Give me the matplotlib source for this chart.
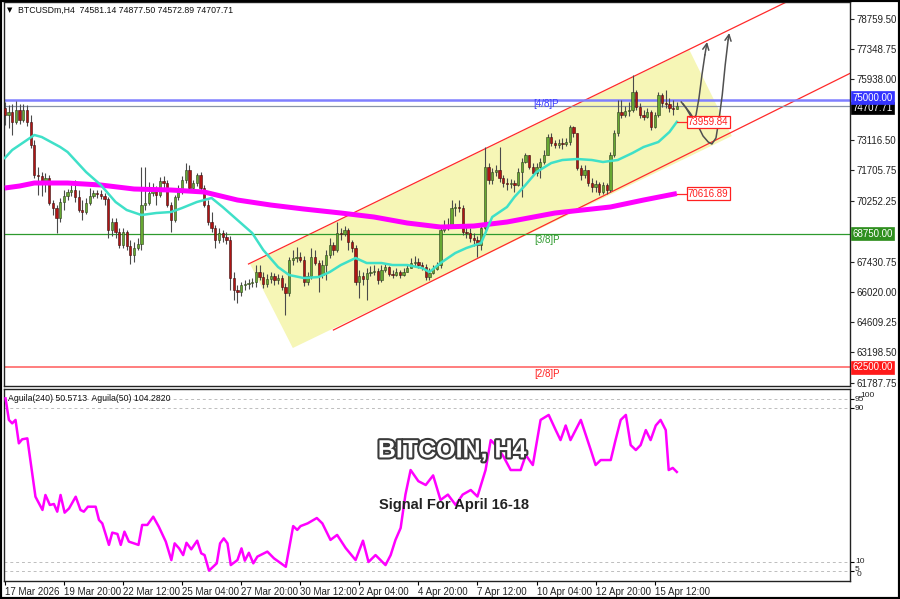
import numpy as np
import matplotlib
matplotlib.use("Agg")
import matplotlib.pyplot as plt
from matplotlib.patches import Polygon, Rectangle
from matplotlib import patheffects as pe
import matplotlib.transforms as mtransforms

plt.rcParams['font.family'] = ['Liberation Sans', 'DejaVu Sans']

# ---- H4 candles, BTCUSDm ----
first_open = 74607
closes = [74280, 74420, 73953, 74513, 74047, 74513, 73953, 72880, 71480, 71433,
          71107, 71340, 70173, 69940, 69473, 70220, 70500, 70687, 70780, 70453,
          69847, 69753, 70173, 70500, 70640, 70593, 70500, 70360, 68913, 69287,
          68820, 68213, 68820, 68167, 67747, 68073, 68260, 70080, 70173, 70640,
          70780, 70547, 71200, 71107, 70080, 69380, 70453, 70687, 71247, 71713,
          70873, 71107, 71480, 70873, 70080, 69287, 69007, 68447, 68773, 68587,
          68447, 66673, 66113, 66020, 66347, 66393, 66440, 66487, 66953, 66720,
          66393, 66627, 66767, 66580, 66673, 66253, 65973, 67513, 67607, 67653,
          67513, 66487, 66767, 67653, 67373, 66813, 67280, 67747, 68213, 67980,
          68773, 68727, 68913, 68353, 68073, 66487, 66767, 66627, 66907, 66953,
          67000, 66580, 67047, 67187, 66860, 66813, 66953, 66813, 66953, 67140,
          67373, 67420, 67280, 67187, 66720, 66907, 67093, 67280, 68913, 69100,
          69147, 69940, 69987, 69940, 68820, 68773, 68540, 68447, 68213, 69007,
          71853, 71247, 71620, 71713, 71340, 71107, 71060, 71107, 71013, 71620,
          72087, 72413, 71853, 71573, 71853, 72087, 72413, 73253, 72973, 72880,
          72973, 72927, 73020, 73720, 73440, 71807, 71480, 71713, 71107, 70920,
          71060, 70687, 71013, 70780, 72413, 73440, 74420, 74280, 74467, 74513,
          75353, 74653, 74280, 74187, 74420, 73720, 74280, 75213, 74840, 74793,
          74607, 74581.14, 74707.71]
highs = [74887, 74747, 74793, 74933, 74793, 74793, 74747, 74280, 73113, 71853,
         71620, 71573, 71480, 70313, 70080, 70407, 70780, 70827, 71013, 71247,
         70780, 70313, 70407, 70873, 70780, 70780, 70780, 70640, 70453, 69473,
         69473, 69007, 69007, 68913, 68447, 68353, 68540, 71853, 71853, 71153,
         71107, 70967, 71387, 71433, 71247, 70220, 70547, 71013, 71433, 72040,
         71947, 71247, 71573, 71620, 71013, 70313, 69753, 69147, 69007, 68913,
         68820, 68633, 66953, 66347, 66487, 66580, 66627, 66673, 67280, 67280,
         66953, 66860, 66953, 66907, 66860, 66813, 66440, 67653, 67980, 68120,
         67887, 67700, 66953, 68073, 67980, 67513, 67513, 67980, 68540, 68353,
         69287, 69007, 69100, 69007, 68447, 68213, 67047, 66953, 67140, 67233,
         67280, 67140, 67280, 67373, 67233, 67047, 67140, 67047, 67140, 67280,
         67607, 67700, 67607, 67420, 67327, 67140, 67280, 67420, 69100, 69380,
         69473, 70313, 70173, 70313, 70080, 69147, 69007, 68773, 68633, 69147,
         72787, 72040, 71807, 71947, 72787, 71480, 71340, 71293, 71247, 71807,
         72273, 72507, 72413, 72040, 72040, 72273, 72647, 73393, 73440, 73113,
         73160, 73207, 73207, 73813, 73767, 73207, 71947, 71947, 71713, 71340,
         71247, 71153, 71153, 71107, 72553, 73580, 74980, 74980, 74700, 74887,
         76147, 75447, 74840, 74513, 74607, 74513, 74420, 75353, 75307, 75447,
         75073, 74980, 74877.50]
lows = [73813, 73673, 73347, 73860, 73860, 73953, 73767, 72740, 71340, 70547,
        70500, 70687, 70080, 69613, 68773, 69287, 69847, 70313, 70500, 70220,
        69753, 69380, 69660, 70080, 70407, 70407, 70360, 70080, 68540, 68633,
        68540, 68073, 68073, 67980, 67327, 67420, 67980, 67980, 69847, 70080,
        70500, 70080, 70453, 70873, 69987, 68820, 69287, 70313, 70593, 71107,
        70687, 70687, 70967, 70780, 69987, 69147, 68820, 68073, 68307, 68353,
        68260, 66113, 65647, 65507, 65833, 66113, 66160, 66253, 66253, 66580,
        66207, 66253, 66440, 66347, 66393, 66113, 64947, 65833, 67280, 67420,
        67420, 66300, 66347, 66627, 67280, 66020, 66673, 66580, 67607, 67747,
        67887, 68447, 68633, 67980, 67887, 66347, 65740, 66347, 65647, 66767,
        66813, 66393, 66487, 66953, 66767, 66673, 66767, 66673, 66767, 66953,
        67140, 67233, 67140, 67047, 66580, 66580, 66860, 67047, 67140, 68820,
        68913, 69007, 69567, 69753, 68680, 68540, 68353, 68167, 67653, 67980,
        68913, 71060, 71060, 71433, 71153, 70920, 70780, 70873, 70687, 70967,
        70453, 72040, 71760, 71433, 71433, 71340, 71993, 72413, 72833, 72740,
        72740, 72693, 72833, 72880, 73253, 71713, 71247, 71340, 70967, 70687,
        70687, 70547, 70593, 70593, 70687, 72320, 73300, 74140, 74187, 74233,
        74420, 74513, 74140, 74047, 74140, 73580, 73673, 74187, 74653, 74607,
        74420, 74280, 74572.89]

# moving averages (bar index, price)
ma_fast_bar = [0, 2, 4, 8, 10, 15, 17, 22, 26, 30, 33, 37, 41, 45, 48, 52, 56, 59,
               63, 67, 70, 74, 77, 81, 85, 88, 91, 95, 98, 102, 105, 109, 113, 115,
               118, 122, 125, 129, 132, 136, 138, 141, 144, 148, 151, 155, 159, 162,
               166, 170, 173, 177, 180, 182]
ma_fast_val = [72273, 72647, 72880, 73347, 73253, 72787, 72553, 71620, 71013, 70220,
               69847, 69613, 69707, 69753, 69940, 70220, 70407, 69987, 69380, 68773,
               67980, 67187, 66813, 66673, 66720, 66953, 67280, 67607, 67373, 67373,
               67280, 67280, 67140, 66953, 67373, 67840, 68073, 68307, 69520, 69987,
               70450, 71013, 71620, 72040, 72180, 72227, 72180, 72087, 72180, 72507,
               72787, 73020, 73487, 73959.84]
ma_slow_bar = [0, 4, 8, 17, 26, 35, 45, 54, 63, 72, 81, 91, 100, 109, 118, 127, 136,
               149, 164, 173, 182]
ma_slow_val = [70873, 70967, 71107, 71107, 71013, 70827, 70780, 70687, 70313, 70080,
               69893, 69707, 69520, 69240, 69053, 69100, 69287, 69707, 69987, 70313,
               70616.89]

# Aguila(240) oscillator (bar index, value)
agu_bar = [0.2, 1.1, 2, 2.9, 3.8, 4.7, 6.1, 8.3, 10.2, 11, 12.2, 13.3, 14.2, 15.1,
           16.2, 17.4, 19.2, 20.5, 21.4, 22.5, 24.6, 25.5, 26.4, 28.2, 29.1, 30.5,
           31.4, 32.4, 33.6, 35, 36.2, 37.2, 38.6, 40.2, 41.7, 43.6, 45.1, 46, 47.2,
           48.3, 49.2, 50.5, 52.1, 53.2, 54.1, 55.3, 57.4, 58.3, 59.3, 60.3, 61.2,
           63, 64.1, 65, 66.1, 67.3, 68.4, 71.1, 72.9, 76.1, 78.1, 79.2, 80.1,
           82, 84.5, 86, 88.2, 90, 92.3, 95, 97, 98.5, 100.4, 103.1, 104.5, 105.8,
           107.2, 108.5, 109.9, 112, 114, 116, 118, 120, 122.1, 124, 126.2, 128,
           130.2, 131.6, 132.9, 135, 137, 139.7, 141.1, 143, 145.1, 147.3, 149.2,
           150.5, 151.9, 153.2, 156, 158.7, 160, 161.4, 164.1, 165.4, 166.8, 168.2,
           169.5, 170.9, 172.2, 173.6, 174.9, 176.3, 177.6, 179, 179.8, 180.9, 182]
agu_val = [95.1, 83.9, 82.1, 83.9, 71.7, 73.8, 74.3, 43.9, 37, 44.8, 39.6, 40.1, 36.1,
           44.8, 35.6, 37.8, 43.9, 37, 36.1, 38.7, 38.7, 31.8, 30, 18.8, 25.2, 24.5,
           18.8, 25.7, 20.5, 19.6, 18.8, 29.2, 29.2, 33.5, 28.3, 20.5, 10.9, 19.6, 17,
           13.5, 19.9, 16.5, 21, 14.4, 13.5, 5.4, 9.2, 19.6, 22.2, 19.6, 8.3, 10.9,
           17, 10.6, 14.7, 9.2, 12.7, 15.3, 11.8, 7.4, 28.6, 26.6, 28.6,
           30, 32.8, 30, 21.4, 24, 17.2, 10.9, 21, 9.9, 13.5, 8.3, 13.5, 21.4,
           27.6, 45, 57.8, 52, 50, 55, 42.2, 45, 39.6, 45, 47.4, 44,
           57.8, 73.4, 70.8, 65, 57.8, 57.8, 65.6, 60.4, 83.9, 86.5, 78.6,
           73.4, 81, 73.4, 83.9, 68.2, 60.4, 63, 63, 73.4, 83.9, 86.5,
           70.8, 68.2, 70.8, 78.6, 73.4, 81, 83.9, 78.6, 57.8, 58.9, 56.8]

# Murrey levels and channel
lvl_48, lvl_38, lvl_28, last_price = 75000.0, 68750.0, 62500.0, 74707.71
chan_upper = [(66.0, 67328), (212.8, 79646)]
chan_lower = [(89.0, 64248), (229.1, 76240)]
box_corners = [(66.4, 67328), (78.0, 63408), (196.9, 73300), (185.4, 77313)]

# projected path arrows
arrow1 = [(183.2, 74887), (184.5, 74607), (185.6, 74280), (186.4, 74047), (187.2, 74280),
          (188.0, 75073), (188.8, 76147), (189.6, 77080), (190.2, 77686)]
arrow2 = [(183.7, 74793), (185.6, 74373), (187.5, 73860), (189.1, 73300), (190.5, 73020),
          (191.5, 72927), (192.6, 73207), (193.4, 74047), (194.3, 75213), (195.1, 76613),
          (195.9, 77780), (196.2, 78106)]

price_ticks = [78759.50, 77348.75, 75938.00, 73116.50, 71705.75, 70252.25,
               67430.75, 66020.00, 64609.25, 63198.50, 61787.75]
time_pos = [0, 16, 32, 48, 64, 80, 96, 112, 128, 144, 160, 176]
time_lbl = ["17 Mar 2026", "19 Mar 20:00", "22 Mar 12:00", "25 Mar 04:00", "27 Mar 20:00",
            "30 Mar 12:00", "2 Apr 04:00", "4 Apr 20:00", "7 Apr 12:00", "10 Apr 04:00",
            "12 Apr 20:00", "15 Apr 12:00"]

W, H = 900, 599
fig = plt.figure(figsize=(9, 5.99), dpi=100)
ax = fig.add_axes([4 / W, 1 - 386 / H, 846 / W, 384 / H])
ax2 = fig.add_axes([4 / W, 1 - 581 / H, 846 / W, 192 / H])

XL = (-0.22, 228.9)

# --- main panel ---
ax.add_patch(Polygon(box_corners, closed=True, facecolor='#f6f6b6', edgecolor='none', zorder=1))
for (p0, p1) in [chan_upper, chan_lower]:
    ax.plot([p0[0], p1[0]], [p0[1], p1[1]], color='#ff2a2a', lw=0.9, zorder=2)

ax.axhline(lvl_48, color='#7f7fff', lw=1.8, zorder=2)
ax.axhline(last_price, color='#8793a8', lw=0.9, zorder=2)
ax.axhline(lvl_38, color='#2e9a2e', lw=0.9, zorder=2)
ax.axhline(lvl_28, color='#ff5a5a', lw=1.1, zorder=2)

c = np.array(closes)
o = np.concatenate([[first_open], c[:-1]])
hi = np.maximum(np.array(highs), np.maximum(o, c))
lo = np.minimum(np.array(lows), np.minimum(o, c))
x = np.arange(len(c))
up = c >= o
ax.vlines(x, lo, hi, color='#4a4a4a', lw=0.8, zorder=3)
body_b = np.minimum(o, c)
body_h = np.maximum(np.abs(c - o), 20)
ax.bar(x[up], body_h[up], bottom=body_b[up], width=0.62, color='#66a832',
       edgecolor='#2d3d1d', lw=0.4, zorder=4)
ax.bar(x[~up], body_h[~up], bottom=body_b[~up], width=0.62, color='#b01414',
       edgecolor='#3a1010', lw=0.4, zorder=4)

ax.plot(ma_slow_bar, ma_slow_val, color='#ff00ff', lw=3.6, solid_capstyle='butt', zorder=5)
ax.plot(ma_fast_bar, ma_fast_val, color='#3fe0c8', lw=1.8, zorder=5)

for pts in (arrow1, arrow2):
    px = [p[0] for p in pts]
    py = [p[1] for p in pts]
    ax.plot(px[:-1], py[:-1], color='#505050', lw=1.1, zorder=6)
    ax.annotate('', xy=pts[-1], xytext=pts[-2],
                arrowprops=dict(arrowstyle='->', color='#505050', lw=1.1,
                                mutation_scale=11, shrinkA=0, shrinkB=0), zorder=6)

# value tags next to MAs
for val in (ma_fast_val[-1], ma_slow_val[-1]):
    ax.plot([182, 184.8], [val, val], color='#ff2a2a', lw=0.9, zorder=6)
    ax.text(185.0, val, f"{val:.2f}", color='#ff2020', fontsize=7, ha='left', va='center',
            zorder=7, bbox=dict(boxstyle='square,pad=0.12', fc='white', ec='#ff2020', lw=0.9))

ax.text(143.0, 74780, "[4/8]P", color='#3c3cff', fontsize=7, ha='left', va='center', zorder=6)
ax.text(143.5, 68470, "[3/8]P", color='#2e9a2e', fontsize=7, ha='left', va='center', zorder=6)
ax.text(143.5, 62210, "[2/8]P", color='#ff2020', fontsize=7, ha='left', va='center', zorder=6)

ax.text(0.004, 0.987, "\u25bc", transform=ax.transAxes, fontsize=5, va='top', ha='left',
        family=['DejaVu Sans'])
ax.text(0.0165, 0.990, "BTCUSDm,H4  74581.14 74877.50 74572.89 74707.71",
        transform=ax.transAxes, fontsize=6.3, va='top', ha='left', color='#111111')

ax.set_xlim(*XL)
ax.set_ylim(61635, 79553)
ax.yaxis.tick_right()
ax.set_yticks(price_ticks)
ax.set_yticklabels([f"{v:.2f}" for v in price_ticks])
ax.tick_params(axis='y', direction='out', length=3, width=0.8, labelsize=7, pad=1.5,
               colors='#222222')
ax.set_xticks([])
for s in ax.spines.values():
    s.set_linewidth(1.0)
    s.set_color('#222222')

# right-hand price tags
trans = mtransforms.blended_transform_factory(ax.transAxes, ax.transData)
tags = [(last_price, '#000000', "74707.71", -90),
        (lvl_48, '#3434ff', "75000.00", 90),
        (lvl_38, '#2f8f1f', "68750.00", 0),
        (lvl_28, '#ff1a1a', "62500.00", 0)]
for val, col, txt, dy in tags:
    ax.text(1.003, val + dy, txt, transform=trans, fontsize=7, color='white', ha='left',
            va='center', zorder=8, clip_on=False,
            bbox=dict(boxstyle='square,pad=0.12', fc=col, ec=col, lw=0.5))

# --- oscillator panel ---
ax2.plot(agu_bar, agu_val, color='#ff00ff', lw=1.8, zorder=3)
for lv in (95, 90, 10, 5):
    ax2.axhline(lv, color='#bdbdbd', lw=0.7, ls=(0, (3, 3)), zorder=1)
ax2.set_xlim(*XL)
ax2.set_ylim(0, 100)
ax2.yaxis.tick_right()
ax2.set_yticks([95, 90, 10, 5])
ax2.set_yticklabels([])
ax2.tick_params(axis='y', direction='out', length=3, width=0.8)
trans2 = mtransforms.blended_transform_factory(ax2.transAxes, ax2.transData)
for lv, txt, dy, xo in [(100, "100", -3.2, 1.012), (95, "95", -0.4, 1.006),
                        (90, "90", -0.3, 1.006), (10, "10", -0.1, 1.006),
                        (5, "5", 1.0, 1.006), (0, "0", 3.2, 1.008)]:
    ax2.text(xo, lv + dy, txt, transform=trans2,
             fontsize=6, ha='left', va='center', color='#222222', clip_on=False)
ax2.set_xticks(time_pos)
ax2.set_xticklabels(time_lbl, ha='left', fontsize=7, color='#222222')
ax2.tick_params(axis='x', direction='out', length=3, width=0.8, pad=1.5)
for s in ax2.spines.values():
    s.set_linewidth(1.0)
    s.set_color('#222222')

ax2.text(0.005, 0.975, "Aguila(240) 50.5713  Aguila(50) 104.2820", transform=ax2.transAxes,
         fontsize=6.3, va='top', ha='left', color='#111111')

ax2.text(0.5295, 0.68, "BITCOIN, H4", transform=ax2.transAxes, fontsize=18, weight='bold',
         color='white', ha='center', va='center', zorder=6,
         path_effects=[pe.Stroke(linewidth=3, foreground='#3a3a3a'), pe.Normal()])
ax2.text(0.5315, 0.395, "Signal For April 16-18", transform=ax2.transAxes, fontsize=10.5,
         weight='bold', color='#222222', ha='center', va='center', zorder=6)

fig.patches.append(Rectangle((0, 0), 1, 1, transform=fig.transFigure, fill=False,
                             ec='black', lw=3))

fig.savefig('out.png', dpi=100)
